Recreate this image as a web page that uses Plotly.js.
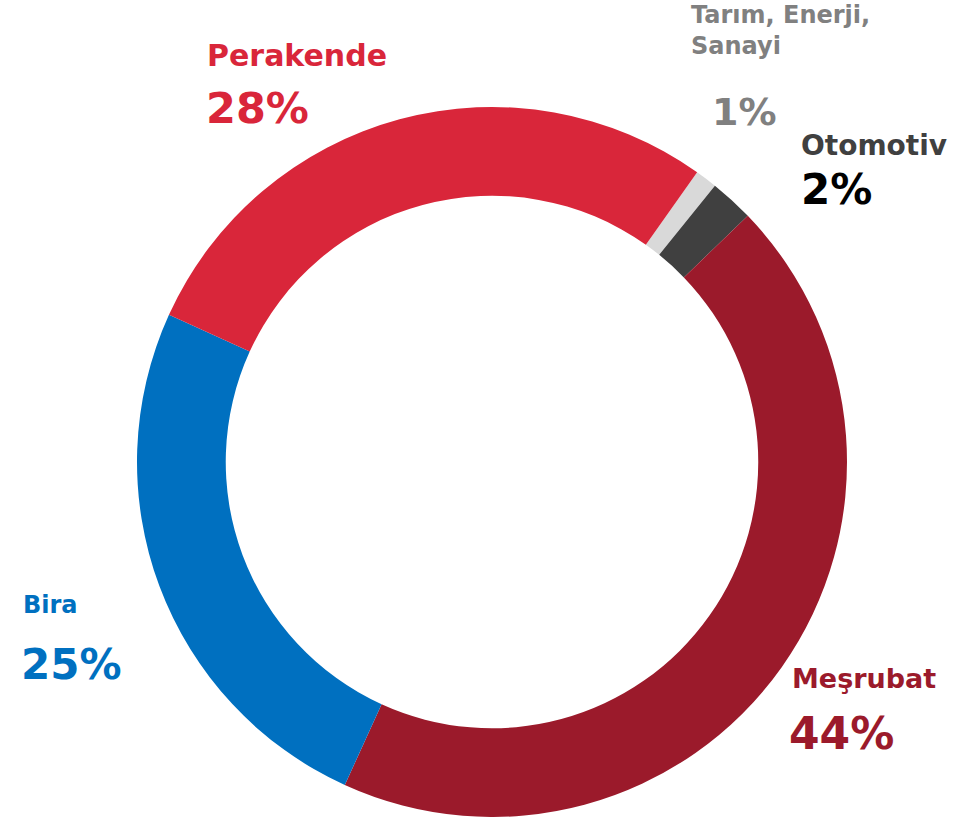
<!DOCTYPE html>
<html>
<head>
<meta charset="utf-8">
<script src="https://cdn.plot.ly/plotly-3.0.1.min.js"></script>
<style>html,body{margin:0;padding:0;background:#fff;}#chart{width:979px;height:817px;}</style>
</head>
<body>
<div id="chart"></div>
<script>
// Data (clockwise order, starting at ~1 o'clock)
const categories = ["Tarım, Enerji,<br>Sanayi", "Otomotiv", "Meşrubat", "Bira", "Perakende"];
const shares = [1, 2, 44, 25, 28];
const percentLabels = ["1%", "2%", "44%", "25%", "28%"];

// Styles
const sliceColors = ["#D9D9D9", "#404040", "#9B1A2B", "#0070C0", "#D9263A"];
const nameColors = ["#808080", "#404040", "#9B1A2B", "#0070C0", "#D9263A"];
const pctColors = ["#808080", "#000000", "#9B1A2B", "#0070C0", "#D9263A"];
const nameSizes = [24, 28, 27, 24, 30];
const pctSizes = [38, 42, 44, 42, 43];
// label placement in pixels: [nameLeft, nameMidY, pctLeft, pctMidY]
const labelPos = [
  [690, 31, 711, 112],
  [800, 145, 800, 189],
  [791, 678, 788, 733],
  [22, 605, 20, 664],
  [206, 56, 205, 108]
];

const W = 979, H = 817;
const font = "DejaVu Sans, sans-serif";
const annotations = [];
categories.forEach((c, i) => {
  const p = labelPos[i];
  annotations.push({
    text: "<b>" + c + "</b>", xref: "paper", yref: "paper",
    x: p[0] / W, y: 1 - p[1] / H, xanchor: "left", yanchor: "middle", align: "left",
    showarrow: false, borderpad: 0,
    font: {family: font, size: nameSizes[i], color: nameColors[i]}
  });
  annotations.push({
    text: "<b>" + percentLabels[i] + "</b>", xref: "paper", yref: "paper",
    x: p[2] / W, y: 1 - p[3] / H, xanchor: "left", yanchor: "middle", align: "left",
    showarrow: false, borderpad: 0,
    font: {family: font, size: pctSizes[i], color: pctColors[i]}
  });
});

const cx = 492, cy = 462, r = 355;
const trace = {
  type: "pie",
  labels: categories,
  values: shares,
  sort: false,
  direction: "clockwise",
  rotation: 35.3,
  hole: 0.75,
  marker: {colors: sliceColors, line: {width: 0}},
  textinfo: "none",
  hoverinfo: "none",
  domain: {x: [(cx - r) / W, (cx + r) / W], y: [(H - cy - r) / H, (H - cy + r) / H]}
};

const layout = {
  width: W, height: H,
  margin: {l: 0, r: 0, t: 0, b: 0},
  paper_bgcolor: "#ffffff",
  showlegend: false,
  annotations: annotations
};
Plotly.newPlot("chart", [trace], layout, {displayModeBar: false, staticPlot: true});
</script>
</body>
</html>
